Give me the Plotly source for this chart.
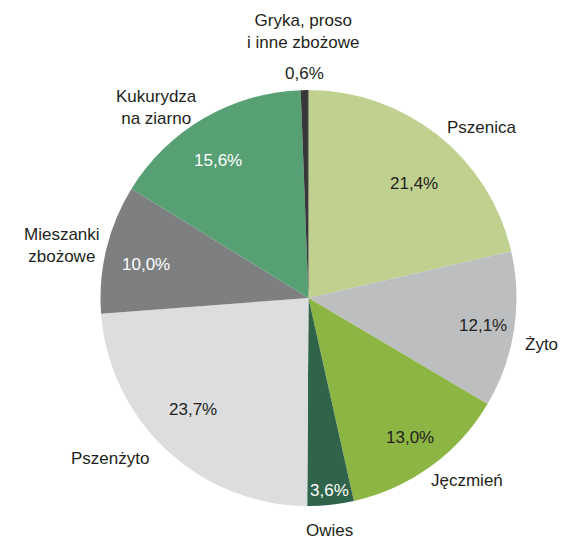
import math
import plotly.graph_objects as go

categories = ["Pszenica", "Żyto", "Jęczmień", "Owies", "Pszenżyto",
              "Mieszanki<br>zbożowe", "Kukurydza<br>na ziarno",
              "Gryka, proso<br>i inne zbożowe"]
values = [21.4, 12.1, 13.0, 3.6, 23.7, 10.0, 15.6, 0.6]
pct_labels = ["21,4%", "12,1%", "13,0%", "3,6%", "23,7%", "10,0%", "15,6%", "0,6%"]

colors = ["#c0d18f", "#bdbec0", "#8db543", "#2f634a", "#dcdddf",
          "#7e7f81", "#56a074", "#383838"]
pct_colors = ["#231f20", "#231f20", "#231f20", "#ffffff", "#231f20",
              "#ffffff", "#ffffff", "#231f20"]
# label placement (radius factor, angle offset in degrees)
pct_place = [(0.75, 4), (0.85, 0), (0.83, 0), (0.93, 0), (0.77, 3),
             (0.80, -2), (0.79, -3), (1.08, 0)]
name_place = [(1.17, 7), (1.14, 2.5), (1.16, -5), (1.12, 1), (1.23, 8),
              (1.21, -1.6), (1.17, -8.4), (1.28, 0)]

W, H = 561, 541
CX, CY, R = 308.5, 298, 208
FONT = "Liberation Sans, Arial, sans-serif"

dom_x = [(CX - R) / W, (CX + R) / W]
dom_y = [(H - CY - R) / H, (H - CY + R) / H]

fig = go.Figure(go.Pie(
    labels=categories, values=values, sort=False, direction="clockwise",
    rotation=0, marker=dict(colors=colors, line=dict(width=0)),
    textinfo="none", hoverinfo="label+percent", showlegend=False,
    domain=dict(x=dom_x, y=dom_y),
))

total = sum(values)
annotations = []
cum = 0.0
for i, v in enumerate(values):
    mid = (cum + v / 2) / total * 360.0
    cum += v
    for txt, (rf, off), col in [(pct_labels[i], pct_place[i], pct_colors[i]),
                                (categories[i], name_place[i], "#231f20")]:
        a = math.radians(mid + off)
        px = CX + rf * R * math.sin(a)
        py = CY - rf * R * math.cos(a)
        annotations.append(dict(
            x=px / W, y=(H - py) / H, xref="paper", yref="paper",
            text=txt, showarrow=False, xanchor="center", yanchor="middle",
            font=dict(family=FONT, size=17, color=col), align="center",
        ))

fig.update_layout(
    width=W, height=H, margin=dict(l=0, r=0, t=0, b=0),
    paper_bgcolor="white", plot_bgcolor="white",
    annotations=annotations,
)
fig.write_html(
    "out.html",
    config={"displayModeBar": False},
    post_script="document.body.style.margin='0';document.body.style.overflow='hidden';",
)
